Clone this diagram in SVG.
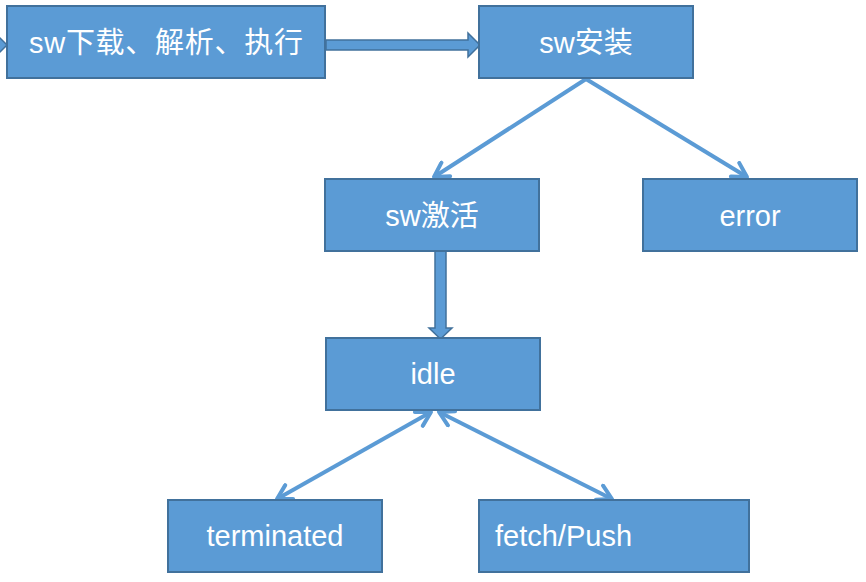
<svg xmlns="http://www.w3.org/2000/svg" width="866" height="582" viewBox="0 0 866 582">
  <style>
    .box { fill: #5B9BD5; stroke: #41719C; stroke-width: 2; }
    .lbl { fill: #FFFFFF; font-family: "Liberation Sans", "Noto Sans CJK SC", sans-serif; font-size: 29px; }
    .mid { text-anchor: middle; }
    .blk { fill: #5B9BD5; stroke: #41719C; stroke-width: 1.5; stroke-linejoin: miter; }
    .ln { fill: none; stroke: #5B9BD5; stroke-width: 4; }
  </style>
  <defs>
    <marker id="ah" viewBox="0 0 20 20" markerWidth="20" markerHeight="20" refX="17" refY="10" orient="auto-start-reverse" markerUnits="userSpaceOnUse">
      <path d="M3,2 L17,10 L3,18" fill="none" stroke="#5B9BD5" stroke-width="4" stroke-linejoin="round" stroke-linecap="round"/>
    </marker>
  </defs>
  <rect width="866" height="582" fill="#FFFFFF"/>

  <g id="connectors">
    <polygon class="blk" points="-5,33 7,45 -5,57"/>
    <polygon class="blk" points="326,40 468,40 468,33 480,45 468,57 468,50 326,50"/>
    <polygon class="blk" points="435,251 446,251 446,328 452,328 440.5,339 429,328 435,328"/>
    <line class="ln" x1="586" y1="79" x2="434" y2="177" marker-end="url(#ah)"/>
    <line class="ln" x1="586" y1="79" x2="747" y2="177" marker-end="url(#ah)"/>
    <line class="ln" x1="431" y1="412" x2="277" y2="499" marker-start="url(#ah)" marker-end="url(#ah)"/>
    <line class="ln" x1="439" y1="412" x2="612" y2="499" marker-start="url(#ah)" marker-end="url(#ah)"/>
  </g>

  <g id="node-download">
    <rect class="box" x="7" y="6" width="318" height="72"/>
    <text class="lbl" x="29" y="53" textLength="274" lengthAdjust="spacing">sw下载、解析、执行</text>
  </g>
  <g id="node-install">
    <rect class="box" x="479" y="6" width="214" height="72"/>
    <text class="lbl mid" x="586" y="53">sw安装</text>
  </g>
  <g id="node-activate">
    <rect class="box" x="325" y="179" width="214" height="72"/>
    <text class="lbl mid" x="432" y="226">sw激活</text>
  </g>
  <g id="node-error">
    <rect class="box" x="643" y="179" width="214" height="72"/>
    <text class="lbl mid" x="750" y="226">error</text>
  </g>
  <g id="node-idle">
    <rect class="box" x="326" y="338" width="214" height="72"/>
    <text class="lbl mid" x="433" y="384">idle</text>
  </g>
  <g id="node-terminated">
    <rect class="box" x="168" y="500" width="214" height="72"/>
    <text class="lbl mid" x="275" y="546">terminated</text>
  </g>
  <g id="node-fetch">
    <rect class="box" x="479" y="500" width="270" height="72"/>
    <text class="lbl" x="495" y="546">fetch/Push</text>
  </g>
</svg>
